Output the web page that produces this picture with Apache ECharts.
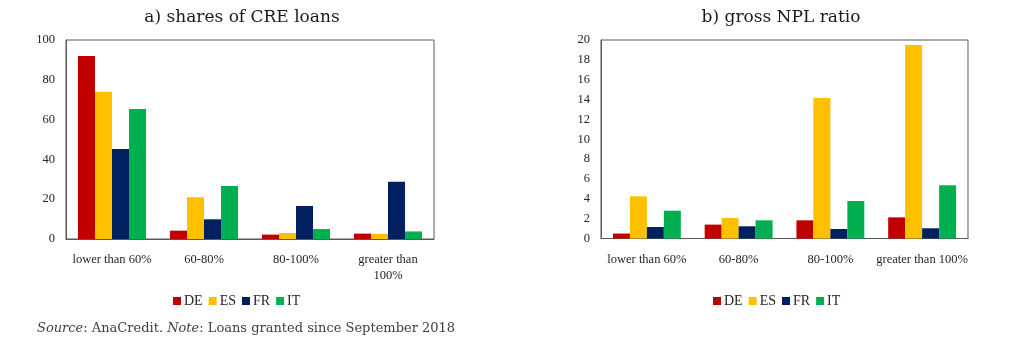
<!DOCTYPE html>
<html>
<head>
<meta charset="utf-8">
<script src="https://cdn.jsdelivr.net/npm/echarts@6/dist/echarts.min.js"></script>
<style>
  html, body { margin: 0; padding: 0; background: #fff; }
  #chart { width: 1024px; height: 344px; }
</style>
</head>
<body>
<div id="chart"></div>
<script>
// LTV buckets
const categoriesA = ['lower than 60%', '60-80%', '80-100%', 'greater than\n100%'];
const categoriesB = ['lower than 60%', '60-80%', '80-100%', 'greater than 100%'];
const countries = ['DE', 'ES', 'FR', 'IT'];
const colors = ['#C00000', '#FFC000', '#002060', '#00B050'];

// a) shares of CRE loans (%)
const sharesDE = [92, 4.2, 2.2, 2.7];
const sharesES = [74, 21, 3, 2.6];
const sharesFR = [45.2, 9.9, 16.6, 28.8];
const sharesIT = [65.3, 26.6, 5, 3.8];

// b) gross NPL ratio (%)
const nplDE = [0.5, 1.4, 1.83, 2.13];
const nplES = [4.25, 2.07, 14.15, 19.5];
const nplFR = [1.16, 1.23, 0.96, 1.03];
const nplIT = [2.8, 1.83, 3.78, 5.36];

const sharesSeries = [sharesDE, sharesES, sharesFR, sharesIT];
const nplSeries = [nplDE, nplES, nplFR, nplIT];

const serif = '"Liberation Serif", "Times New Roman", serif';
const titleSerif = '"DejaVu Serif", serif';
const frameColor = '#595959';
const labelColor = '#262626';

function makeSeries(data, idx) {
  return data.map((vals, i) => ({
    name: countries[i],
    type: 'bar',
    xAxisIndex: idx,
    yAxisIndex: idx,
    data: vals,
    barGap: '0%',
    barCategoryGap: '26%',
    itemStyle: { color: colors[i] }
  }));
}

function xAxis(cats, gridIndex) {
  return {
    type: 'category',
    gridIndex,
    data: cats,
    axisLine: { lineStyle: { color: frameColor } },
    axisTick: { show: false },
    axisLabel: { color: labelColor, fontFamily: serif, fontSize: 12.5, margin: 13, interval: 0, lineHeight: 16 }
  };
}

function yAxis(max, interval, gridIndex) {
  return {
    type: 'value',
    gridIndex,
    min: 0, max, interval,
    splitLine: { show: false },
    axisLine: { show: true, lineStyle: { color: frameColor } },
    axisTick: { show: false },
    axisLabel: { color: labelColor, fontFamily: serif, fontSize: 12.5, margin: 11 }
  };
}

const legendBase = {
  itemWidth: 8, itemHeight: 8, icon: 'rect', itemGap: 6,
  textStyle: { color: labelColor, fontFamily: serif, fontSize: 14, padding: [0, 0, 0, -2] }
};

const chart = echarts.init(document.getElementById('chart'), null, { renderer: 'canvas' });
chart.setOption({
  animation: false,
  backgroundColor: '#fff',
  title: [
    { text: 'a) shares of CRE loans', left: 237, top: 4, textAlign: 'center',
      textStyle: { fontFamily: titleSerif, fontSize: 17, fontWeight: 'normal', color: '#1a1a1a' } },
    { text: 'b) gross NPL ratio', left: 776, top: 4, textAlign: 'center',
      textStyle: { fontFamily: titleSerif, fontSize: 17, fontWeight: 'normal', color: '#1a1a1a' } }
  ],
  grid: [
    { left: 66, top: 40, width: 368, height: 199, show: true, borderColor: frameColor, borderWidth: 1 },
    { left: 601, top: 40, width: 367, height: 198.5, show: true, borderColor: frameColor, borderWidth: 1 }
  ],
  legend: [
    Object.assign({}, legendBase, { data: countries, left: 168, top: 289 }),
    Object.assign({}, legendBase, { data: countries, left: 708, top: 289 })
  ],
  xAxis: [xAxis(categoriesA, 0), xAxis(categoriesB, 1)],
  yAxis: [yAxis(100, 20, 0), yAxis(20, 2, 1)],
  series: [...makeSeries(sharesSeries, 0), ...makeSeries(nplSeries, 1)],
  graphic: [{
    type: 'text',
    left: 37, top: 322,
    style: {
      text: '{i|Source}: AnaCredit. {i|Note}: Loans granted since September 2018',
      fontFamily: titleSerif,
      fontSize: 13,
      fill: '#404040',
      rich: { i: { fontStyle: 'italic', fontFamily: titleSerif, fontSize: 13, fill: '#404040' } }
    }
  }]
});
</script>
</body>
</html>
